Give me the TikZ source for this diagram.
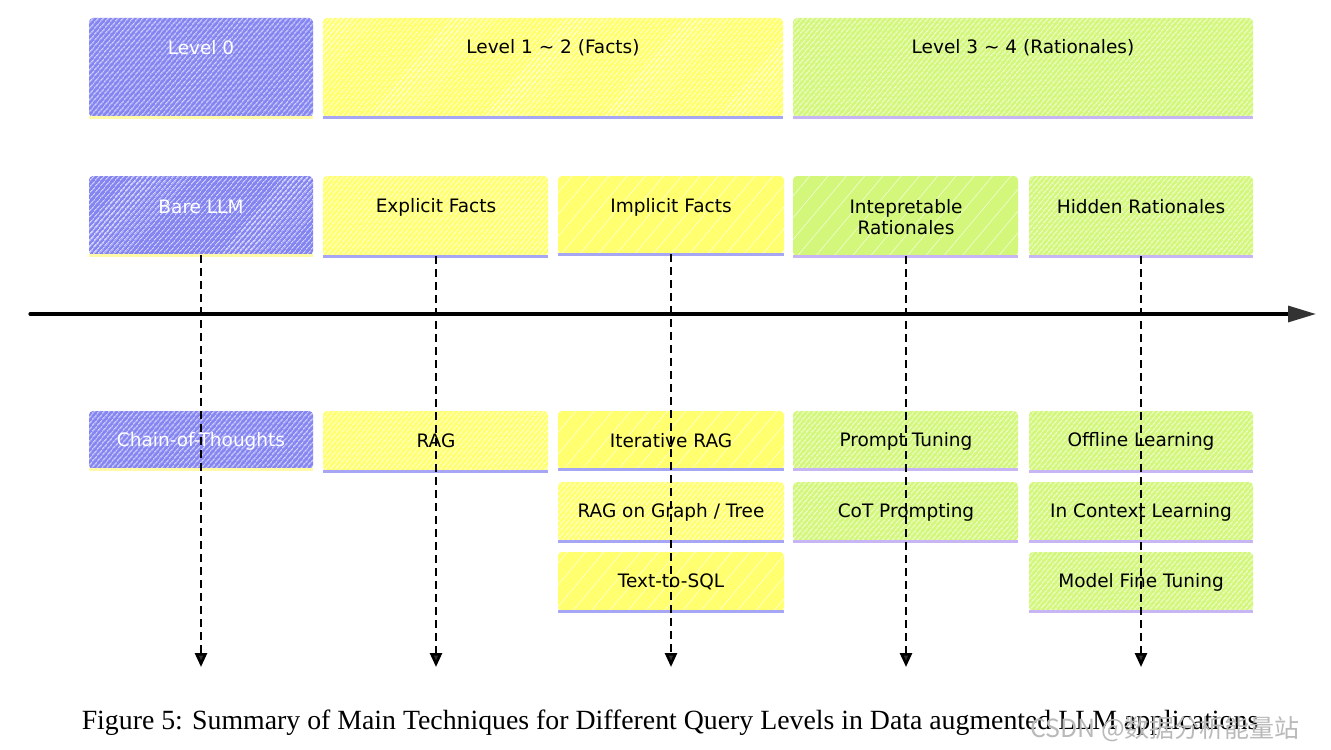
\documentclass[tikz,border=0pt]{standalone}
\usepackage{fontspec}
\setmainfont{Liberation Serif}
\newfontfamily\boxfont{DejaVu Sans}
\newfontfamily\cjkfont{Noto Sans CJK SC}
\usetikzlibrary{patterns.meta,arrows.meta}
\definecolor{cblue}{HTML}{8585F2}
\definecolor{cyellow}{HTML}{FFFF70}
\definecolor{cgreen}{HTML}{D2F77A}
\definecolor{sblue}{HTML}{A6A6F4}
\definecolor{syellow}{HTML}{FFF9A8}
\definecolor{sgreen}{HTML}{C8B6F4}
\definecolor{arrowgray}{HTML}{333333}
\begin{document}
\begin{tikzpicture}[x=1bp,y=-1bp,
  hbox/.style={draw=none,rounded corners=4bp,preaction={fill=#1},
    pattern={Lines[angle=50,distance=3.6bp,line width=0.7bp]},pattern color=white},
  solidbox/.style={draw=none,rounded corners=4bp,preaction={fill=#1},
    pattern={Lines[angle=50,distance=14bp,line width=0.6bp]},pattern color=white!70!#1},
  btxt/.style={font=\boxfont\fontsize{18.5bp}{21bp}\selectfont,text=black,align=center,inner sep=0pt},
  wtxt/.style={btxt,text=white},
  stripe/.style={line width=3bp,color=#1},
  vline/.style={dash pattern=on 8bp off 5bp,line width=2.6bp,draw=black,
    -{Triangle[length=14bp,width=12bp,fill=arrowgray]}},
]
\useasboundingbox (0,0) rectangle (1331,749);
% macro for boxes
\newcommand\mkbox[7]{% name, x1, y1, x2, y2, style, stripe colour
  \path[#6] (#2,#3) rectangle (#4,#5);
  \node[inner sep=0pt,minimum width=#4bp-#2bp,minimum height=#5bp-#3bp] (#1) at ({(#2+#4)/2},{(#3+#5)/2}) {};
  \draw[stripe=#7] (#2,#5) -- (#4,#5);
}
% Row 1
\mkbox{lz}{89}{18}{313}{117}{hbox=cblue}{syellow}
\mkbox{lot}{323}{18}{783}{117}{hbox=cyellow}{sblue}
\mkbox{ltf}{793}{18}{1253}{117}{hbox=cgreen}{sgreen}
\node[wtxt] at (201,48) {Level 0};
\node[btxt] at (553,48) {Level 1 \textasciitilde{} 2 (Facts)};
\node[btxt] at (1023,48) {Level 3 \textasciitilde{} 4 (Rationales)};
% Row 2
\mkbox{bare}{89}{176}{313}{255}{hbox=cblue}{syellow}
\mkbox{expl}{323}{176}{548}{256}{hbox=cyellow}{sblue}
\mkbox{impl}{558}{176}{784}{254}{solidbox=cyellow}{sblue}
\mkbox{intp}{793}{176}{1018}{256}{solidbox=cgreen}{sgreen}
\mkbox{hidd}{1029}{176}{1253}{256}{hbox=cgreen}{sgreen}
\node[wtxt] at (201,207) {Bare LLM};
\node[btxt] at (436,207) {Explicit Facts};
\node[btxt] at (671,207) {Implicit Facts};
\node[btxt] at (906,217) {Intepretable\\Rationales};
\node[btxt] at (1141,207) {Hidden Rationales};
% Row 3
\mkbox{cot}{89}{411}{313}{469}{hbox=cblue}{syellow}
\mkbox{rag}{323}{411}{548}{471}{hbox=cyellow}{sblue}
\mkbox{irag}{558}{411}{784}{469}{solidbox=cyellow}{sblue}
\mkbox{ptun}{793}{411}{1018}{469}{hbox=cgreen}{sgreen}
\mkbox{offl}{1029}{411}{1253}{471}{hbox=cgreen}{sgreen}
\node[wtxt] at (201,441) {Chain-of-Thoughts};
\node[btxt] at (436,441) {RAG};
\node[btxt] at (671,441) {Iterative RAG};
\node[btxt] at (906,441) {Prompt Tuning};
\node[btxt] at (1141,441) {Offline Learning};
% Row 4
\mkbox{rgt}{558}{482}{784}{541}{hbox=cyellow}{sblue}
\mkbox{cotp}{793}{482}{1018}{541}{hbox=cgreen}{sgreen}
\mkbox{icl}{1029}{482}{1253}{541}{hbox=cgreen}{sgreen}
\node[btxt] at (671,512) {RAG on Graph / Tree};
\node[btxt] at (906,512) {CoT Prompting};
\node[btxt] at (1141,512) {In Context Learning};
% Row 5
\mkbox{tsql}{558}{552}{784}{611}{solidbox=cyellow}{sblue}
\mkbox{mft}{1029}{552}{1253}{611}{hbox=cgreen}{sgreen}
\node[btxt] at (671,582) {Text-to-SQL};
\node[btxt] at (1141,582) {Model Fine Tuning};
% axis
\coordinate (axs) at (30,314);
\coordinate (axe) at (1316,314);
\draw[line width=3.2bp,line cap=round,-{Triangle[length=28bp,width=16bp,fill=arrowgray,color=arrowgray]}] (axs) -- (axe);
% dashed arrows
\foreach \n/\x in {bare/201,expl/436,impl/671,intp/906,hidd/1141}{
  \coordinate (\n-end) at (\x,667);
  \draw[vline] (\n.south -| \n-end) -- (\n-end);
}
% caption
\node[font=\fontsize{27.8bp}{32bp}\selectfont,anchor=base,inner sep=0pt] (cap) at (670,729) {Figure 5: Summary of Main Techniques for Different Query Levels in Data augmented LLM applications};
\node[font=\cjkfont\fontsize{25bp}{28bp}\selectfont,text=gray!55,anchor=base west,inner sep=0pt] (wm) at (1030,737) {CSDN @数据分析能量站};
\end{tikzpicture}
\end{document}
